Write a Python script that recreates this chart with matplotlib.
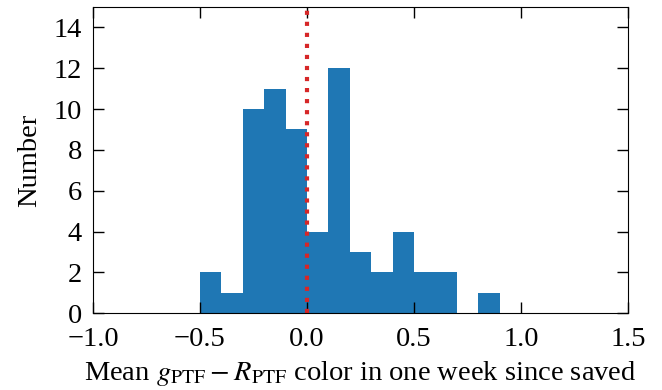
import numpy as np
import matplotlib
matplotlib.use('Agg')
import matplotlib.pyplot as plt

# histogram data
bin_edges = [-0.5, -0.4, -0.3, -0.2, -0.1, 0.0, 0.1, 0.2, 0.3, 0.4, 0.5, 0.6, 0.7, 0.8, 0.9]
counts = [2, 1, 10, 11, 9, 4, 12, 3, 2, 4, 2, 2, 0, 1]

plt.rcParams['font.family'] = 'serif'
plt.rcParams['font.serif'] = ['Liberation Serif', 'DejaVu Serif']
plt.rcParams['mathtext.fontset'] = 'stix'
plt.rcParams['font.size'] = 20.5

fig = plt.figure(figsize=(6.62, 3.9), dpi=100)
ax = fig.add_axes([0.1405, 0.197, 0.808, 0.785])

centers = np.array(bin_edges[:-1]) + 0.05
ax.hist(centers, bins=bin_edges, weights=counts, color='#1f77b4')
ax.axvline(0, color='#d62728', ls=':', lw=3)

ax.set_xlim(-1.0, 1.5)
ax.set_ylim(0, 15)
ax.set_xticks([-1.0, -0.5, 0.0, 0.5, 1.0, 1.5])
ax.set_yticks(range(0, 15, 2))
ax.tick_params(direction='in', top=True, right=True, length=8, width=1)
ax.tick_params(axis='x', pad=10)
ax.tick_params(axis='y', pad=8)
ax.set_xlabel(r'Mean $g_{\rm PTF} - R_{\rm PTF}$ color in one week since saved', labelpad=5)
ax.set_ylabel('Number', labelpad=8)

fig.savefig('out.png', dpi=100)
